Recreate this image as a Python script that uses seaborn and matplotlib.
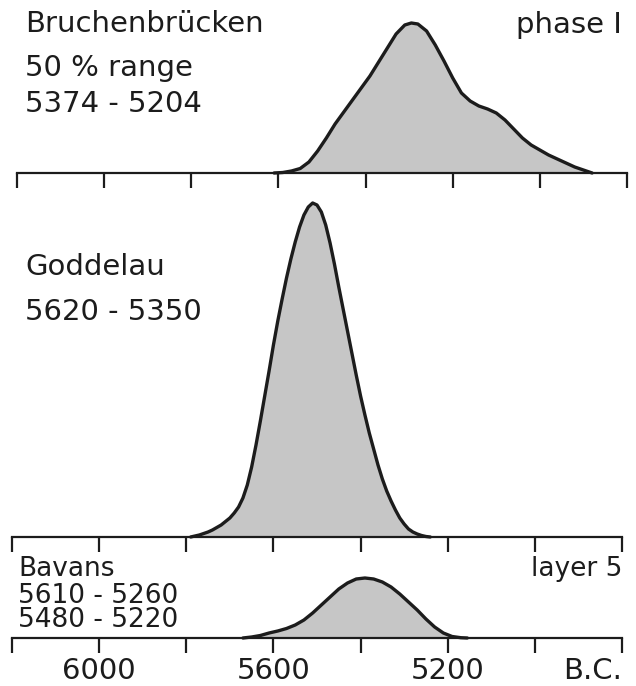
import matplotlib
matplotlib.use("Agg")
import matplotlib.pyplot as plt
import seaborn as sns

# Relative calibrated probability curves (years B.C.), read at 10-20 year steps
bruch_years = [5610, 5590, 5570, 5550, 5530, 5510, 5490, 5470, 5450, 5430, 5410, 5390,
               5370, 5350, 5330, 5310, 5295, 5280, 5260, 5240, 5220, 5200, 5180, 5160,
               5140, 5120, 5100, 5080, 5060, 5040, 5020, 5000, 4980, 4960, 4940, 4920,
               4900, 4880]
bruch_prob = [0.000, 0.005, 0.020, 0.045, 0.110, 0.220, 0.350, 0.490, 0.610, 0.730,
              0.850, 0.970, 1.110, 1.250, 1.390, 1.480, 1.500, 1.490, 1.420, 1.280,
              1.120, 0.950, 0.800, 0.720, 0.670, 0.640, 0.600, 0.530, 0.440, 0.350,
              0.280, 0.230, 0.180, 0.140, 0.100, 0.060, 0.030, 0.000]

godd_years = [5790, 5780, 5770, 5760, 5750, 5740, 5730, 5720, 5710, 5700, 5690, 5680,
              5670, 5660, 5650, 5640, 5630, 5620, 5610, 5600, 5590, 5580, 5570, 5560,
              5550, 5540, 5530, 5520, 5510, 5500, 5490, 5480, 5470, 5460, 5450, 5440,
              5430, 5420, 5410, 5400, 5390, 5380, 5370, 5360, 5350, 5340, 5330, 5320,
              5310, 5300, 5290, 5280, 5270, 5260, 5250, 5240]
godd_prob = [0.000, 0.010, 0.020, 0.035, 0.050, 0.070, 0.095, 0.120, 0.155, 0.190,
             0.240, 0.300, 0.390, 0.520, 0.700, 0.920, 1.160, 1.410, 1.660, 1.920,
             2.160, 2.380, 2.590, 2.780, 2.950, 3.100, 3.220, 3.300, 3.340, 3.320,
             3.250, 3.120, 2.940, 2.730, 2.500, 2.280, 2.060, 1.840, 1.620, 1.410,
             1.220, 1.040, 0.880, 0.720, 0.580, 0.460, 0.360, 0.270, 0.190, 0.130,
             0.080, 0.050, 0.030, 0.015, 0.005, 0.000]

bavans_years = [5670, 5650, 5630, 5610, 5590, 5570, 5550, 5530, 5510, 5490, 5470, 5450,
                5430, 5410, 5390, 5370, 5350, 5330, 5310, 5290, 5270, 5250, 5230, 5210,
                5190, 5170, 5155]
bavans_prob = [0.000, 0.010, 0.025, 0.050, 0.070, 0.095, 0.130, 0.180, 0.250, 0.330,
               0.410, 0.490, 0.550, 0.590, 0.600, 0.590, 0.560, 0.510, 0.440, 0.360,
               0.280, 0.190, 0.110, 0.050, 0.015, 0.003, 0.000]

tick_years = [6200, 6000, 5800, 5600, 5400, 5200, 5000, 4800]
tick_labels = ["", "6000", "", "5600", "", "5200", "", ""]

W, H = 636, 686
INK = "#1c1c1c"
FILL = "#c6c6c6"

sns.set_theme(style="white")
plt.rcParams["font.family"] = ["DejaVu Sans"]

fig = plt.figure(figsize=(W / 100, H / 100), dpi=100)


def panel(left, top, right, bottom):
    ax = fig.add_axes([left / W, 1 - bottom / H, (right - left) / W, (bottom - top) / H])
    ax.set_xlim(6200, 4800)
    ax.set_ylim(0, (bottom - top) / 100)
    ax.patch.set_alpha(0)
    return ax


def draw(ax, years, prob, show_labels=False):
    ax.fill_between(years, prob, 0, color=FILL, lw=0, zorder=1)
    sns.lineplot(x=years, y=prob, ax=ax, color=INK, lw=2.4, estimator=None,
                 zorder=3, clip_on=False, solid_joinstyle="round",
                 solid_capstyle="round")
    sns.despine(ax=ax, left=True, top=True, right=True)
    ax.spines["bottom"].set_linewidth(1.6)
    ax.spines["bottom"].set_color(INK)
    ax.set_yticks([])
    ax.set_xticks(tick_years)
    ax.tick_params(axis="x", direction="out", length=11, width=1.6, color=INK,
                   pad=3, labelsize=21, labelcolor=INK, bottom=True)
    ax.set_xticklabels(tick_labels if show_labels else [""] * len(tick_years))
    ax.set_xlabel("")
    ax.set_ylabel("")


ax_top = panel(17, 10, 627, 173)
draw(ax_top, bruch_years, bruch_prob)

ax_mid = panel(12, 190, 622, 537)
draw(ax_mid, godd_years, godd_prob)

ax_bot = panel(12, 570, 622, 638)
draw(ax_bot, bavans_years, bavans_prob, show_labels=True)


def label(x, y, s, size=21, ha="left"):
    fig.text(x / W, 1 - y / H, s, fontsize=size, color=INK, ha=ha, va="baseline")


label(25, 32, "Bruchenbrücken")
label(25, 76, "50 % range")
label(25, 112, "5374 - 5204")
label(622, 33, "phase I", ha="right")

label(25, 275, "Goddelau")
label(25, 320, "5620 - 5350")

label(18, 576, "Bavans", size=19)
label(18, 603, "5610 - 5260", size=19)
label(18, 627, "5480 - 5220", size=19)
label(622, 576, "layer 5", size=19, ha="right")

label(622, 679, "B.C.", ha="right")

fig.savefig("out.png", dpi=100)
